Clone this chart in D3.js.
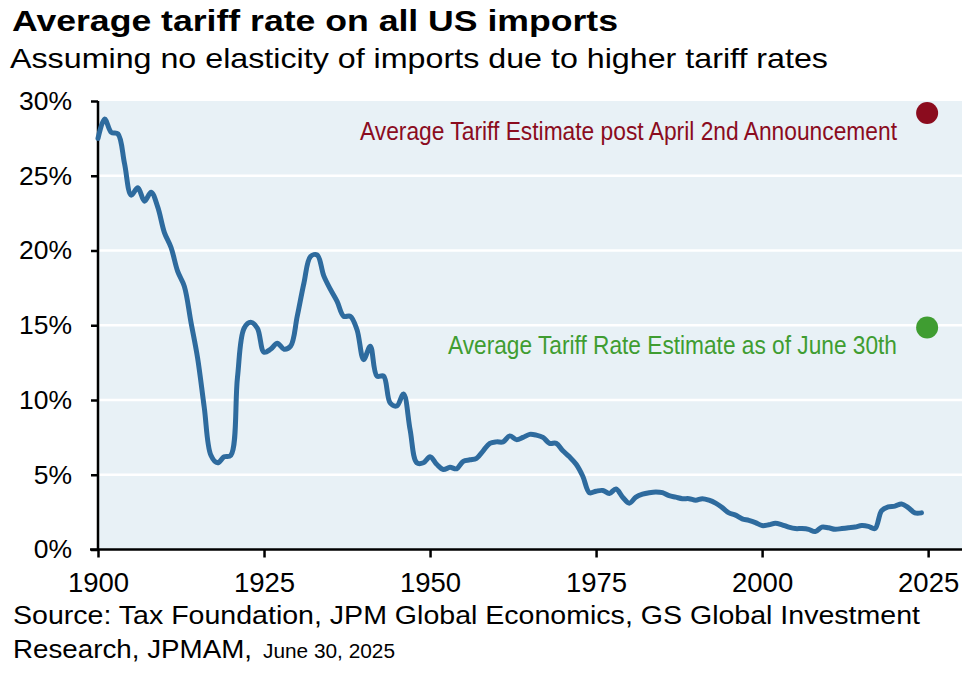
<!DOCTYPE html>
<html>
<head>
<meta charset="utf-8">
<script src="https://cdn.jsdelivr.net/npm/d3@7"></script>
<style>
  body { margin: 0; background: #fff; }
  text { font-family: "Liberation Sans", Arial, sans-serif; fill: #000; }
</style>
</head>
<body>
<div class="chart"></div>
<script>
const width = 980;
const height = 675;

// annual average tariff rate, %
const years = d3.range(1900, 2025);
const tariffRate = [
  27.5, 28.8, 27.9, 27.8, 25.8, 23.7, 24.2, 23.3, 23.9, 22.9,
  21.2, 20.2, 18.6, 17.6, 15.2, 12.8, 9.5, 6.3, 5.8, 6.2,
  6.3, 11.5, 14.8, 15.2, 14.8, 13.2, 13.4, 13.8, 13.4, 13.6,
  15.6, 17.8, 19.6, 19.7, 18.3, 17.4, 16.6, 15.6, 15.6, 14.7,
  12.7, 13.6, 11.6, 11.6, 9.8, 9.6, 10.4, 8.0, 5.8, 5.8,
  6.2, 5.7, 5.35, 5.5, 5.4, 5.9, 6.0, 6.1, 6.6, 7.1,
  7.2, 7.2, 7.6, 7.35, 7.5, 7.7, 7.65, 7.5, 7.1, 7.1,
  6.6, 6.2, 5.7, 4.9, 3.8, 3.9, 3.95, 3.75, 4.05, 3.5,
  3.1, 3.5, 3.7, 3.8, 3.85, 3.8, 3.6, 3.5, 3.4, 3.4,
  3.3, 3.4, 3.3, 3.1, 2.8, 2.45, 2.3, 2.05, 1.95, 1.8,
  1.6, 1.65, 1.75, 1.65, 1.5, 1.4, 1.4, 1.35, 1.2, 1.5,
  1.45, 1.35, 1.4, 1.45, 1.5, 1.6, 1.55, 1.4, 2.6, 2.85,
  2.9, 3.05, 2.8, 2.45, 2.45
];

// 2025 estimates
const estimateLabels = [
  'Average Tariff Estimate post April 2nd Announcement',
  'Average Tariff Rate Estimate as of June 30th'
];
const estimateValues = [29.2, 14.85];
const estimateColors = ['#8b0c1e', '#3f9d31'];
const estimateYear = 2025;

const xTicks = [1900, 1925, 1950, 1975, 2000, 2025];
const yTicks = [0, 5, 10, 15, 20, 25, 30];

const svg = d3
    .select('div.chart')
    .append('svg')
    .attr('width', width)
    .attr('height', height);

const x = d3.scaleLinear().domain([1900, 2030.1]).range([98, 962]);
const y = d3.scaleLinear().domain([0, 30]).range([549.5, 101]);

// titles
svg.append('text')
    .attr('x', 12).attr('y', 31)
    .attr('font-size', 29.5).attr('font-weight', 'bold')
    .attr('textLength', 606).attr('lengthAdjust', 'spacingAndGlyphs')
    .text('Average tariff rate on all US imports');

svg.append('text')
    .attr('x', 10).attr('y', 68)
    .attr('font-size', 28)
    .attr('textLength', 818).attr('lengthAdjust', 'spacingAndGlyphs')
    .text('Assuming no elasticity of imports due to higher tariff rates');

// plot background
svg.append('rect')
    .attr('x', x(1900)).attr('y', y(30))
    .attr('width', x.range()[1] - x(1900))
    .attr('height', y(0) - y(30))
    .attr('fill', '#e8f1f6');

// gridlines
svg.selectAll('.grid')
    .data(yTicks.filter((d) => d > 0 && d < 30))
    .enter()
    .append('line')
    .attr('class', 'grid')
    .attr('x1', x(1900)).attr('x2', x.range()[1])
    .attr('y1', (d) => y(d)).attr('y2', (d) => y(d))
    .attr('stroke', '#fff').attr('stroke-width', 2.5);

// y axis
const yAxis = svg.append('g')
    .attr('transform', `translate(${x(1900)},0)`)
    .call(d3.axisLeft(y).tickValues(yTicks).tickSize(7).tickSizeOuter(0)
        .tickPadding(19).tickFormat((d) => d + '%'));
yAxis.select('.domain').remove();
yAxis.selectAll('line').attr('stroke', '#000').attr('stroke-width', 2.5);
yAxis.selectAll('text')
    .attr('font-size', 26.5)
    .attr('font-family', '"Liberation Sans", Arial, sans-serif')
    .attr('fill', '#000');

svg.append('line')
    .attr('x1', x(1900)).attr('x2', x(1900))
    .attr('y1', y(30)).attr('y2', y(0))
    .attr('stroke', '#000').attr('stroke-width', 2.5);

// x axis
const xAxis = svg.append('g')
    .attr('transform', `translate(0,${y(0)})`)
    .call(d3.axisBottom(x).tickValues(xTicks).tickSize(8).tickSizeOuter(0)
        .tickFormat(d3.format('d')));
xAxis.select('.domain').remove();
xAxis.selectAll('line').attr('stroke', '#000').attr('stroke-width', 2.5);
xAxis.selectAll('text')
    .attr('y', 42.5).attr('dy', null)
    .attr('font-size', 27.5)
    .attr('font-family', '"Liberation Sans", Arial, sans-serif')
    .attr('fill', '#000');

svg.append('line')
    .attr('x1', x(1900) - 8).attr('x2', x.range()[1])
    .attr('y1', y(0)).attr('y2', y(0))
    .attr('stroke', '#000').attr('stroke-width', 2.5);

// tariff line
const line = d3.line()
    .x((d, i) => x(years[i]))
    .y((d) => y(d))
    .curve(d3.curveCatmullRom.alpha(0.5));

svg.append('path')
    .datum(tariffRate)
    .attr('d', line)
    .attr('fill', 'none')
    .attr('stroke', '#2e6b9e')
    .attr('stroke-width', 5)
    .attr('stroke-linejoin', 'round')
    .attr('stroke-linecap', 'round');

// estimate dots and labels
svg.selectAll('.est')
    .data(estimateValues)
    .enter()
    .append('circle')
    .attr('class', 'est')
    .attr('cx', x(estimateYear) - 1)
    .attr('cy', (d) => y(d))
    .attr('r', 11)
    .attr('fill', (d, i) => estimateColors[i]);

const labelWidths = [537, 449];
svg.selectAll('.est-label')
    .data(estimateValues)
    .enter()
    .append('text')
    .attr('class', 'est-label')
    .attr('x', 897)
    .attr('y', (d) => y(d) + 27)
    .attr('text-anchor', 'end')
    .attr('font-size', 26.5)
    .attr('textLength', (d, i) => labelWidths[i])
    .attr('lengthAdjust', 'spacingAndGlyphs')
    .style('fill', (d, i) => estimateColors[i])
    .text((d, i) => estimateLabels[i]);

// source
svg.append('text')
    .attr('x', 13).attr('y', 624)
    .attr('font-size', 25)
    .attr('textLength', 907).attr('lengthAdjust', 'spacingAndGlyphs')
    .text('Source: Tax Foundation, JPM Global Economics, GS Global Investment');

svg.append('text')
    .attr('x', 13).attr('y', 658)
    .attr('font-size', 25)
    .attr('textLength', 239).attr('lengthAdjust', 'spacingAndGlyphs')
    .text('Research, JPMAM,');

svg.append('text')
    .attr('x', 263).attr('y', 658)
    .attr('font-size', 20)
    .attr('textLength', 132).attr('lengthAdjust', 'spacingAndGlyphs')
    .text('June 30, 2025');
</script>
</body>
</html>
